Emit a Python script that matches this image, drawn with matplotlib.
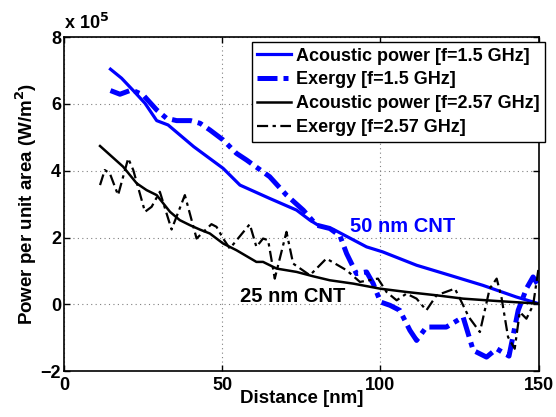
import matplotlib
matplotlib.use("Agg")
import matplotlib.pyplot as plt

plt.rcParams['font.family'] = ['Liberation Sans', 'DejaVu Sans']
plt.rcParams['font.weight'] = 'bold'

# Acoustic power, f = 1.5 GHz (units of 1e5 W/m^2)
ap15_x = [14.7, 18.2, 21.9, 25.6, 29.3, 32.9, 41.0, 50.3, 55.6, 65.0, 73.5, 77.7, 80.8,
          85.0, 95.6, 100.7, 111.4, 121.9, 132.3, 142.9, 150.0]
ap15_y = [7.04, 6.77, 6.40, 6.02, 5.50, 5.37, 4.72, 4.07, 3.57, 3.17, 2.82, 2.52, 2.34,
          2.25, 1.72, 1.57, 1.17, 0.87, 0.57, 0.22, 0.02]

# Exergy, f = 1.5 GHz
ex15_x = [14.7, 17.7, 21.4, 25.0, 29.3, 32.4, 35.6, 40.0, 43.0, 46.1, 50.3, 54.5, 57.7,
          65.0, 70.3, 75.6, 79.8, 84.0, 87.2, 89.3, 92.4, 95.6, 97.7, 100.0, 103.0, 106.1,
          109.3, 111.4, 114.5, 120.8, 126.1, 129.3, 133.5, 136.7, 140.6, 143.5, 146.1,
          148.2, 150.0]
ex15_y = [6.40, 6.29, 6.42, 6.27, 5.82, 5.57, 5.50, 5.50, 5.42, 5.22, 4.92, 4.52, 4.32,
          3.82, 3.27, 2.82, 2.37, 2.27, 2.05, 1.52, 0.92, 0.97, 0.62, 0.07, -0.03, -0.18,
          -0.78, -1.08, -0.68, -0.68, -0.38, -1.38, -1.58, -1.33, -1.55, -0.18, 0.47,
          0.82, 0.55]

# Acoustic power, f = 2.57 GHz
ap257_x = [11.4, 18.7, 23.0, 26.1, 29.3, 33.5, 36.6, 39.8, 42.9, 46.1, 50.3, 54.5, 60.8,
           62.9, 67.2, 73.5, 78.7, 84.0, 91.4, 99.8, 108.2, 117.7, 126.1, 136.7, 150.0]
ap257_y = [4.74, 4.12, 3.62, 3.42, 3.27, 2.77, 2.52, 2.37, 2.24, 2.12, 1.82, 1.62, 1.27,
           1.27, 1.07, 0.97, 0.84, 0.72, 0.62, 0.47, 0.37, 0.27, 0.17, 0.10, 0.02]

# Exergy, f = 2.57 GHz
ex257_x = [11.4, 12.9, 14.5, 17.1, 20.3, 21.9, 25.6, 27.7, 30.3, 34.0, 38.2, 41.9, 46.6,
           48.2, 50.3, 52.4, 58.7, 60.8, 62.9, 64.5, 66.6, 70.3, 72.4, 77.7, 82.9, 89.3,
           93.5, 99.2, 101.9, 105.1, 108.2, 111.4, 114.5, 117.7, 123.5, 125.6, 127.9,
           131.4, 134.5, 136.7, 138.2, 140.3, 142.4, 144.0, 146.1, 148.2, 150.0]
ex257_y = [3.57, 4.02, 3.92, 3.27, 4.37, 4.02, 2.77, 2.92, 3.37, 2.24, 3.27, 1.97, 2.40,
           2.32, 1.97, 1.67, 2.40, 1.72, 1.97, 1.92, 0.77, 2.17, 1.22, 0.87, 1.37, 1.02,
           0.67, 0.77, 0.37, 0.12, 0.32, 0.17, -0.18, 0.27, 0.47, 0.07, -0.38, -0.83,
           0.47, 0.77, 0.22, -0.98, -1.33, -0.23, -0.43, -0.03, 1.12]

labels = ['Acoustic power [f=1.5 GHz]', 'Exergy [f=1.5 GHz]',
          'Acoustic power [f=2.57 GHz]', 'Exergy [f=2.57 GHz]']

x_ticks = [0, 50, 100, 150]
y_ticks = [-2, 0, 2, 4, 6, 8]

fig = plt.figure(figsize=(5.56, 4.17), dpi=100)
ax = fig.add_axes([0.115, 0.110, 0.854, 0.801])

blue = '#0000ff'
ax.plot(ap15_x, ap15_y, '-', color=blue, lw=2.3, label=labels[0])
ax.plot(ex15_x, ex15_y, '-.', color=blue, lw=3.6, label=labels[1],
        dashes=(4, 1.2, 1, 1.2))
ax.plot(ap257_x, ap257_y, '-', color='black', lw=1.8, label=labels[2])
ax.plot(ex257_x, ex257_y, '-.', color='black', lw=1.6, label=labels[3],
        dashes=(5, 2, 1.5, 2))

ax.set_xlim(0, 150)
ax.set_ylim(-2, 8)
ax.set_xticks(x_ticks)
ax.set_yticks(y_ticks)
ax.tick_params(direction='in', length=4, width=1, labelsize=13, pad=2,
               top=True, right=True)
ax.tick_params(axis='x', pad=4)
for lab in ax.get_xticklabels() + ax.get_yticklabels():
    lab.set_fontweight('bold')
ax.grid(True, linestyle=(0, (1, 3)), color='#808080', linewidth=0.8)
for sp in ax.spines.values():
    sp.set_linewidth(1.2)

ax.set_xlabel('Distance [nm]', fontsize=13.5, fontweight='bold', labelpad=-3)
ax.set_ylabel('Power per unit area (W/m$^\\mathbf{2}$)', fontsize=13.5,
              fontweight='bold', labelpad=1)

ax.text(0.0, 1.012, 'x 10$^\\mathbf{5}$', transform=ax.transAxes, fontsize=13,
        fontweight='bold', ha='left', va='bottom')

ax.text(90.3, 2.32, '50 nm CNT', color=blue, fontsize=14.5, fontweight='bold',
        ha='left', va='center')
ax.text(55.6, 0.22, '25 nm CNT', color='black', fontsize=14.5, fontweight='bold',
        ha='left', va='center')

leg = ax.legend(loc='upper right', bbox_to_anchor=(1.013, 0.985), fontsize=13,
                frameon=True, fancybox=False, framealpha=1, edgecolor='black',
                handlelength=1.9, handletextpad=0.25, borderpad=0.3,
                labelspacing=0.38, borderaxespad=0)
leg.get_frame().set_linewidth(1.0)
for t in leg.get_texts():
    t.set_fontweight('bold')

fig.savefig('out.png', dpi=100)
